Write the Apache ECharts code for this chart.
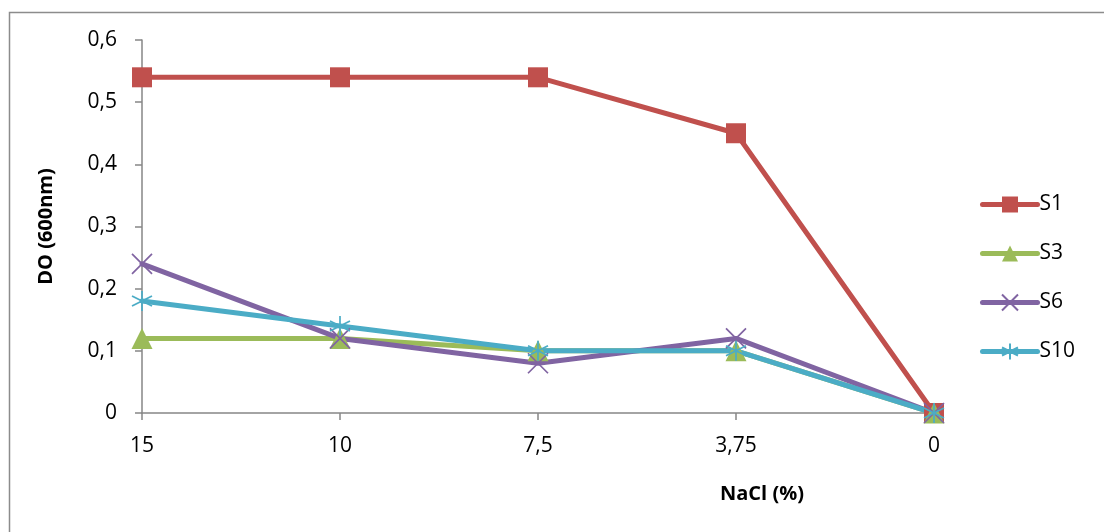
<!DOCTYPE html>
<html>
<head>
<meta charset="utf-8">
<script src="https://cdn.jsdelivr.net/npm/echarts@6/dist/echarts.min.js"></script>
<style>
  html, body { margin: 0; padding: 0; background: #fff; }
  #chart { width: 1104px; height: 532px; }
</style>
</head>
<body>
<div id="chart"></div>
<script>
// NaCl concentration (%) along the x axis
const categories = ['15', '10', '7,5', '3,75', '0'];

// Optical density at 600 nm for each strain
const s1 = [0.54, 0.54, 0.54, 0.45, 0];
const s3 = [0.12, 0.12, 0.10, 0.10, 0];
const s6 = [0.24, 0.12, 0.08, 0.12, 0];
const s10 = [0.18, 0.14, 0.10, 0.10, 0];

const seriesNames = ['S1', 'S3', 'S6', 'S10'];
const seriesColors = ['#C0504D', '#9BBB59', '#8064A2', '#4BACC6'];

const FONT = 'Open Sans';

const crossPath = 'path://M0,0L10,10M10,0L0,10';
const starPath = 'path://M5,0L5,10M0.7,2.5L9.3,7.5M9.3,2.5L0.7,7.5';

function makeSeries(name, data, color, symbol, size, stroked) {
  return {
    name: name,
    type: 'line',
    data: data,
    symbol: symbol,
    symbolSize: size,
    showAllSymbol: true,
    lineStyle: { color: color, width: 5, cap: 'round' },
    itemStyle: stroked
      ? { color: color, borderColor: color, borderWidth: 1.7 }
      : { color: color },
    emphasis: { disabled: true },
    z: 3
  };
}

const chart = echarts.init(document.getElementById('chart'), null, { renderer: 'canvas' });

chart.setOption({
  animation: false,
  backgroundColor: '#ffffff',
  graphic: [{
    type: 'rect',
    shape: { x: 9.5, y: 12.5, width: 1110, height: 540 },
    style: { fill: 'none', stroke: '#8c8c8c', lineWidth: 1.5 },
    silent: true
  }, {
    type: 'text',
    left: 720,
    top: 484,
    style: { text: 'NaCl (%)', fontFamily: FONT, fontSize: 20, fontWeight: 'bold', fill: '#000' },
    silent: true
  }],
  grid: { left: 142, right: 170, top: 40, bottom: 119, containLabel: false },
  legend: {
    orient: 'vertical',
    left: 975,
    top: 189,
    itemWidth: 55,
    itemHeight: 20,
    itemGap: 28,
    data: seriesNames,
    lineStyle: { width: 5, cap: 'round' },
    textStyle: { fontFamily: FONT, fontSize: 21, color: '#000', padding: [0, 0, 0, -3] }
  },
  xAxis: {
    type: 'category',
    data: categories,
    boundaryGap: false,
    axisLine: { lineStyle: { color: '#868686', width: 1.5 } },
    axisTick: { show: true, inside: false, length: 7, alignWithLabel: true, lineStyle: { color: '#868686', width: 1.5 } },
    axisLabel: { fontFamily: FONT, fontSize: 21, color: '#000', margin: 23 },
    splitLine: { show: false }
  },
  yAxis: {
    type: 'value',
    min: 0,
    max: 0.6,
    interval: 0.1,
    name: 'DO (600nm)',
    nameLocation: 'middle',
    nameGap: 86,
    nameRotate: 90,
    nameTextStyle: { fontFamily: FONT, fontSize: 20, fontWeight: 'bold', color: '#000' },
    axisLine: { show: true, lineStyle: { color: '#868686', width: 1.5 } },
    axisTick: { show: true, inside: false, length: 7, lineStyle: { color: '#868686', width: 1.5 } },
    axisLabel: {
      fontFamily: FONT, fontSize: 21, color: '#000', margin: 25,
      formatter: function (v) { return String(Math.round(v * 10) / 10).replace('.', ','); }
    },
    splitLine: { show: false }
  },
  series: [
    makeSeries('S1', s1, seriesColors[0], 'rect', 20, false),
    makeSeries('S3', s3, seriesColors[1], 'triangle', 21, false),
    makeSeries('S6', s6, seriesColors[2], crossPath, 20, true),
    makeSeries('S10', s10, seriesColors[3], starPath, 20, true)
  ]
});
</script>
</body>
</html>
